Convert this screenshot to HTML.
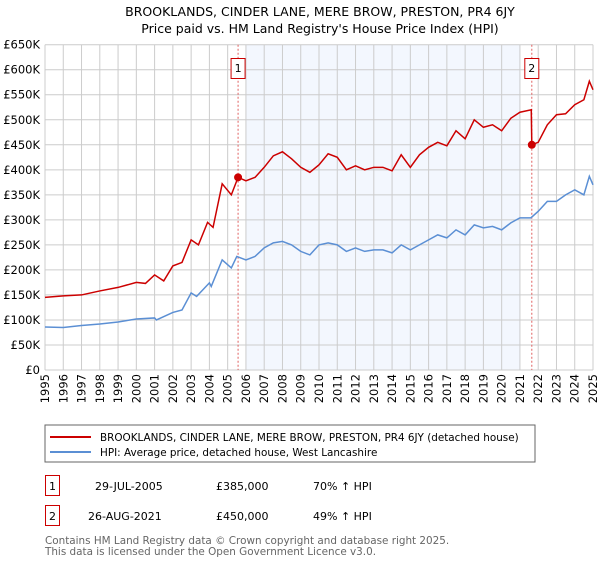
<!DOCTYPE html>
<html><head><meta charset="utf-8"><style>
body{margin:0;background:#fff;font-family:"Liberation Sans","DejaVu Sans",sans-serif;}
svg text{font-family:"DejaVu Sans","Liberation Sans",sans-serif;}
</style></head><body>
<svg id="c" width="600" height="560" xmlns="http://www.w3.org/2000/svg">
<text x="320" y="16" text-anchor="middle" font-size="12.5" fill="#000">BROOKLANDS, CINDER LANE, MERE BROW, PRESTON, PR4 6JY</text>
<text x="320" y="33" text-anchor="middle" font-size="12.5" fill="#000">Price paid vs. HM Land Registry's House Price Index (HPI)</text>
<g id="shade"></g><g id="grid"></g><g id="marks"></g><g id="axes"></g>
<rect x="45" y="425" width="490" height="37" fill="#fff" stroke="#666"/>
<line x1="50" y1="437" x2="91" y2="437" stroke="#cc0000" stroke-width="2"/>
<text x="100" y="441" font-size="10.4">BROOKLANDS, CINDER LANE, MERE BROW, PRESTON, PR4 6JY (detached house)</text>
<line x1="50" y1="452" x2="91" y2="452" stroke="#5b8fd4" stroke-width="2"/>
<text x="100" y="456" font-size="10.4">HPI: Average price, detached house, West Lancashire</text>
<rect x="45.5" y="475.5" width="14" height="20" fill="#fff" stroke="#cc0000"/>
<text x="52.5" y="490" font-size="11" text-anchor="middle">1</text>
<text x="95" y="490" font-size="11">29-JUL-2005</text>
<text x="216" y="490" font-size="11">£385,000</text>
<text x="313" y="490" font-size="11">70% ↑ HPI</text>
<rect x="45.5" y="505.5" width="14" height="20" fill="#fff" stroke="#cc0000"/>
<text x="52.5" y="520" font-size="11" text-anchor="middle">2</text>
<text x="88" y="520" font-size="11">26-AUG-2021</text>
<text x="216" y="520" font-size="11">£450,000</text>
<text x="313" y="520" font-size="11">49% ↑ HPI</text>
<text x="45" y="544" font-size="10.4" fill="#666">Contains HM Land Registry data © Crown copyright and database right 2025.</text>
<text x="45" y="555" font-size="10.4" fill="#666">This data is licensed under the Open Government Licence v3.0.</text>
</svg>
<script>
const hpiYears=[1995,1996,1997,1998,1999,2000,2001,2001.1,2002,2002.5,2003,2003.3,2004,2004.1,2004.7,2005.2,2005.5,2006,2006.5,2007,2007.5,2008,2008.5,2009,2009.5,2010,2010.5,2011,2011.5,2012,2012.5,2013,2013.5,2014,2014.5,2015,2015.5,2016,2016.5,2017,2017.5,2018,2018.5,2019,2019.5,2020,2020.5,2021,2021.6,2022,2022.5,2023,2023.5,2024,2024.5,2024.8,2025];
const hpiValues=[86,85,89,92,96,102,104,100,115,120,154,147,174,167,220,204,227,220,227,244,254,257,250,237,230,250,254,250,237,244,237,240,240,234,250,240,250,260,270,264,280,270,290,284,287,280,294,304,304,317,337,337,350,360,350,387,370];
const priceYears=[1995,1996,1997,1998,1999,2000,2000.5,2001,2001.5,2002,2002.5,2003,2003.4,2003.9,2004.2,2004.7,2005.2,2005.57,2006,2006.5,2007,2007.5,2008,2008.5,2009,2009.5,2010,2010.5,2011,2011.5,2012,2012.5,2013,2013.5,2014,2014.5,2015,2015.5,2016,2016.5,2017,2017.5,2018,2018.5,2019,2019.5,2020,2020.5,2021,2021.62,2021.65,2022,2022.5,2023,2023.5,2024,2024.5,2024.8,2025];
const priceValues=[145,148,150,158,165,175,173,190,178,208,215,260,250,295,285,372,350,385,378,385,405,428,436,422,405,395,410,432,425,400,408,400,405,405,398,430,405,430,445,455,448,478,462,500,485,490,478,503,515,520,450,455,490,510,512,530,540,577,560];
const saleYears=[2005.57,2021.65];
const saleValues=[385,450];
const yTicks=[0,50,100,150,200,250,300,350,400,450,500,550,600,650];
const xTicks=[1995,1996,1997,1998,1999,2000,2001,2002,2003,2004,2005,2006,2007,2008,2009,2010,2011,2012,2013,2014,2015,2016,2017,2018,2019,2020,2021,2022,2023,2024,2025];
const NS="http://www.w3.org/2000/svg";
const X=y=>45+(y-1995)*(548/30);
const Y=v=>370-v*(325.3/650);
function mk(p,t,a){const e=document.createElementNS(NS,t);for(const k in a)e.setAttribute(k,a[k]);document.getElementById(p).appendChild(e);return e;}
let r=mk('shade','rect',{x:X(2006),y:Y(650),width:X(2021)-X(2006),height:Y(0)-Y(650),fill:'#f3f7fe'});


yTicks.forEach(v=>{
 let l=mk('grid','line',{x1:45,x2:593,y1:Y(v),y2:Y(v),stroke:'#ccc'});
 
 
 let t=mk('axes','text',{x:40,y:Y(v)+4,'text-anchor':'end','font-size':11.5});
 
 
 t.textContent=v===0?'£0':'£'+v+'K';
});
xTicks.forEach(y=>{
 let l=mk('grid','line',{x1:X(y),x2:X(y),y1:Y(650),y2:Y(0),stroke:'#ccc'});
 
 
 let t=mk('axes','text',{x:0,y:0,'text-anchor':'end','font-size':11.5,transform:`translate(${X(y)+4},374) rotate(-90)`});
 
 
 t.textContent=y;
});
saleYears.forEach((s,i)=>{
 let l=mk('marks','line',{x1:X(s),x2:X(s),y1:Y(650),y2:Y(0),stroke:'#e06060','stroke-dasharray':'2,2'});
 
 
 let b=mk('marks','rect',{x:X(s)-7,y:58.5,width:14,height:20,fill:'#fff',stroke:'#cc0000'});
 
 
 let t=mk('marks','text',{x:X(s),y:72,'text-anchor':'middle','font-size':11});
 
 
 t.textContent=String(i+1);
});
let hp=mk('marks','polyline',{points:hpiYears.map((y,i)=>X(y)+','+Y(hpiValues[i])).join(' '),fill:'none',stroke:'#5b8fd4','stroke-width':1.5});


let pp=mk('marks','polyline',{points:priceYears.map((y,i)=>X(y)+','+Y(priceValues[i])).join(' '),fill:'none',stroke:'#cc0000','stroke-width':1.5});


saleYears.forEach((s,i)=>{
 let c=mk('marks','circle',{cx:X(s),cy:Y(saleValues[i]),r:4,fill:'#cc0000'});
 
 
});
</script>
</body></html>
